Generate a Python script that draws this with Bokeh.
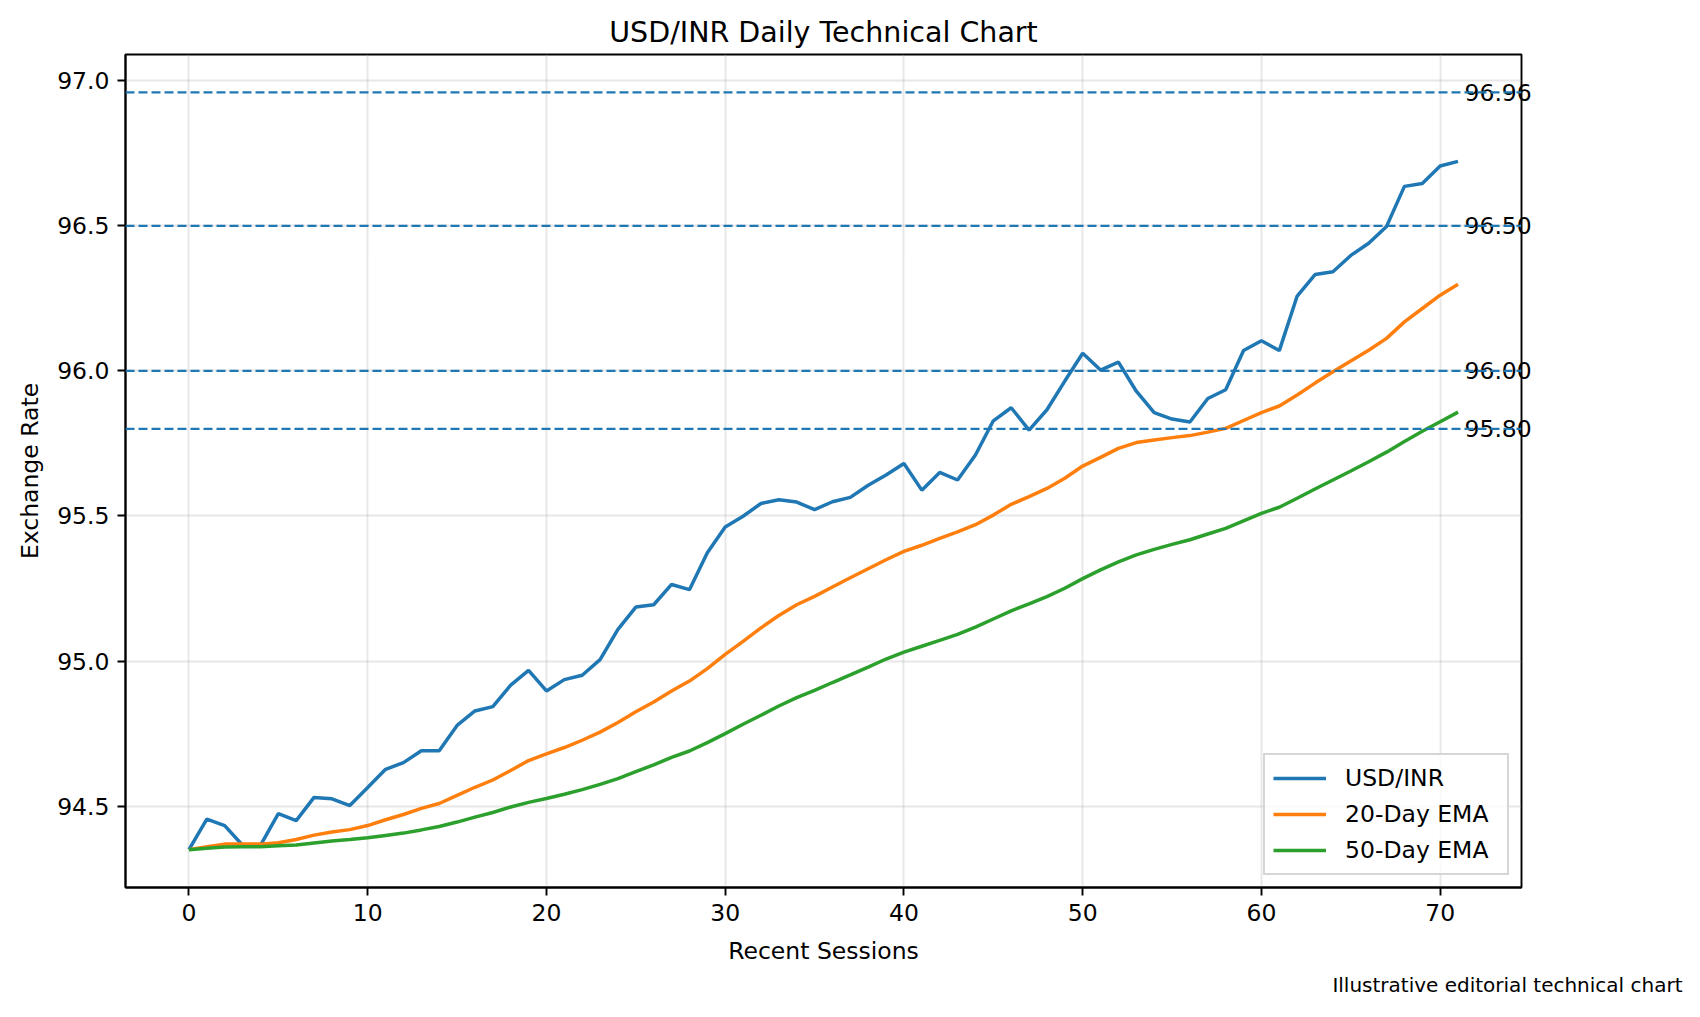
from bokeh.plotting import figure
from bokeh.models import (Range1d, FixedTicker, PrintfTickFormatter, Span, Legend, LegendItem,
                          LinearAxis, Title)
from bokeh.embed import file_html
from bokeh.resources import INLINE

sessions = list(range(72))
usd_inr = [94.35, 94.455, 94.433, 94.365, 94.365, 94.474, 94.45, 94.53, 94.525, 94.502,
           94.564, 94.627, 94.65, 94.691, 94.691, 94.778, 94.828, 94.843, 94.917, 94.968,
           94.897, 94.936, 94.951, 95.005, 95.109, 95.186, 95.194, 95.264, 95.246, 95.373,
           95.462, 95.499, 95.543, 95.556, 95.548, 95.522, 95.549, 95.564, 95.606, 95.641,
           95.681, 95.589, 95.65, 95.624, 95.71, 95.828, 95.873, 95.796, 95.866, 95.965,
           96.061, 96.003, 96.03, 95.93, 95.856, 95.834, 95.824, 95.905, 95.935, 96.07,
           96.104, 96.07, 96.258, 96.332, 96.342, 96.398, 96.44, 96.498, 96.636, 96.646,
           96.706, 96.722]
ema20 = [94.35, 94.36, 94.369, 94.369, 94.369, 94.374, 94.385, 94.40, 94.411, 94.419,
         94.433, 94.453, 94.471, 94.492, 94.509, 94.537, 94.565, 94.59, 94.623, 94.657,
         94.68, 94.702, 94.727, 94.755, 94.788, 94.825, 94.859, 94.897, 94.931, 94.974,
         95.023, 95.068, 95.114, 95.157, 95.194, 95.223, 95.255, 95.287, 95.318, 95.349,
         95.378, 95.399, 95.423, 95.445, 95.47, 95.503, 95.54, 95.567, 95.595, 95.63,
         95.672, 95.702, 95.733, 95.753, 95.762, 95.77, 95.777, 95.789, 95.802, 95.829,
         95.856, 95.879, 95.917, 95.958, 95.997, 96.034, 96.071, 96.112, 96.169, 96.215,
         96.261, 96.299]
ema50 = [94.35, 94.355, 94.359, 94.36, 94.36, 94.363, 94.366, 94.373, 94.38, 94.385,
         94.391, 94.399, 94.407, 94.418, 94.43, 94.445, 94.462, 94.478, 94.497, 94.513,
         94.526, 94.541, 94.557, 94.575, 94.595, 94.619, 94.642, 94.668, 94.69, 94.719,
         94.75, 94.782, 94.813, 94.845, 94.874, 94.899, 94.926, 94.952, 94.979, 95.007,
         95.031, 95.051, 95.071, 95.092, 95.117, 95.145, 95.173, 95.197, 95.222, 95.251,
         95.284, 95.314, 95.342, 95.366, 95.385, 95.402, 95.418, 95.438, 95.457, 95.483,
         95.509, 95.53, 95.561, 95.593, 95.624, 95.655, 95.687, 95.72, 95.757, 95.792,
         95.825, 95.858]
levels = [96.96, 96.50, 96.00, 95.80]
x_ticks = [0, 10, 20, 30, 40, 50, 60, 70]
y_ticks = [94.5, 95.0, 95.5, 96.0, 96.5, 97.0]

FONT = "DejaVu Sans"
TICK_FS = "23.5px"

# autoscale like matplotlib (5% margins), hlines included in y
xmin, xmax = min(sessions), max(sessions)
xpad = (xmax - xmin) * 0.05
ylo = min(min(usd_inr), min(ema20), min(ema50), min(levels))
yhi = max(max(usd_inr), max(ema20), max(ema50), max(levels))
ypad = (yhi - ylo) * 0.05

p = figure(width=1684, height=1001, output_backend="svg", toolbar_location=None,
           x_range=Range1d(xmin - xpad, xmax + xpad), y_range=Range1d(ylo - ypad, yhi + ypad),
           min_border_left=125, min_border_right=163, min_border_top=54, min_border_bottom=114)

p.title.text = "USD/INR Daily Technical Chart"
p.title.align = "center"
p.title.text_font = FONT
p.title.text_font_size = "28.5px"
p.title.text_font_style = "normal"
p.title.text_color = "black"
p.title.standoff = 12

p.outline_line_color = "black"
p.outline_line_width = 1.9
p.background_fill_color = "white"
p.border_fill_color = "white"

for ax in (p.xaxis[0], p.yaxis[0]):
    ax.axis_line_color = "black"
    ax.axis_line_width = 1.9
    ax.major_tick_out = 8
    ax.major_tick_in = 0
    ax.major_tick_line_width = 1.9
    ax.minor_tick_line_color = None
    ax.major_label_text_font = FONT
    ax.major_label_text_font_size = TICK_FS
    ax.major_label_text_color = "black"
    ax.major_label_standoff = 8
    ax.axis_label_text_font = FONT
    ax.axis_label_text_font_size = TICK_FS
    ax.axis_label_text_font_style = "normal"
    ax.axis_label_text_color = "black"

p.xaxis.ticker = FixedTicker(ticks=x_ticks)
p.yaxis.ticker = FixedTicker(ticks=y_ticks)
p.yaxis.formatter = PrintfTickFormatter(format="%.1f")
p.xaxis.axis_label = "Recent Sessions"
p.yaxis.axis_label = "Exchange Rate"
p.xaxis.axis_label_standoff = 13
p.yaxis.axis_label_standoff = 10

p.xgrid.ticker = FixedTicker(ticks=x_ticks)
p.ygrid.ticker = FixedTicker(ticks=y_ticks)
for g in (p.xgrid[0], p.ygrid[0]):
    g.grid_line_color = "#b0b0b0"
    g.grid_line_alpha = 0.3
    g.grid_line_width = 1.9

# horizontal levels
for lv in levels:
    p.add_layout(Span(location=lv, dimension="width", line_color="#1f77b4",
                      line_width=2.3, line_dash="9 4"))

r1 = p.line(sessions, usd_inr, line_color="#1f77b4", line_width=3.5)
r2 = p.line(sessions, ema20, line_color="#ff7f0e", line_width=3.5)
r3 = p.line(sessions, ema50, line_color="#2ca02c", line_width=3.5)

# level value labels: an extra right axis whose labels sit just past the last session
level_axis = LinearAxis(ticker=FixedTicker(ticks=levels),
                        formatter=PrintfTickFormatter(format="%.2f"),
                        axis_line_color=None, major_tick_line_color=None,
                        minor_tick_line_color=None, major_tick_out=0, major_tick_in=0,
                        major_label_standoff=-57,
                        major_label_text_font=FONT, major_label_text_font_size=TICK_FS,
                        major_label_text_color="black")
p.add_layout(level_axis, "right")

legend = Legend(items=[LegendItem(label="USD/INR", renderers=[r1]),
                       LegendItem(label="20-Day EMA", renderers=[r2]),
                       LegendItem(label="50-Day EMA", renderers=[r3])],
                location="bottom_right")
legend.label_text_font = FONT
legend.label_text_font_size = TICK_FS
legend.label_text_color = "black"
legend.glyph_width = 53
legend.glyph_height = 30
legend.label_height = 30
legend.label_width = 154
legend.label_standoff = 19
legend.spacing = 6
legend.padding = 8
legend.margin = 12
legend.border_line_color = "#cccccc"
legend.border_line_width = 2
legend.border_line_alpha = 0.8
legend.background_fill_color = "white"
legend.background_fill_alpha = 0.8
p.add_layout(legend)

# footer note, bottom right of the figure
p.add_layout(Title(text="Illustrative editorial technical chart", align="right", offset=-161,
                   standoff=7, text_font=FONT, text_font_size="20px",
                   text_font_style="normal", text_color="black"), "below")

open("out.html", "w").write(file_html(p, INLINE))
